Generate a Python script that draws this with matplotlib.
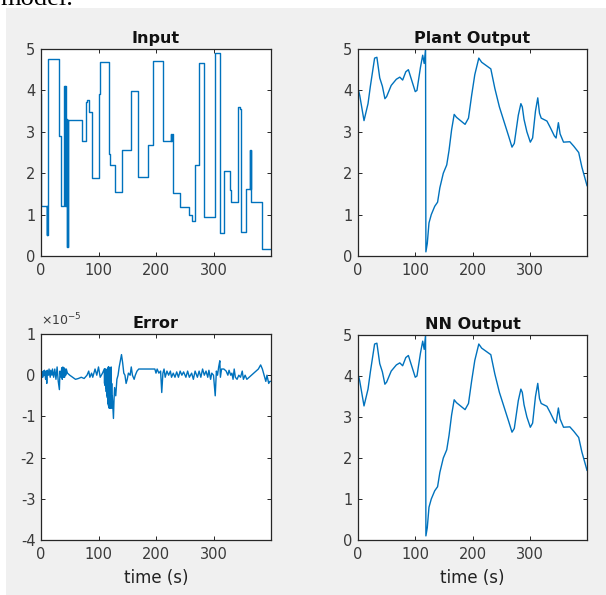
import matplotlib
matplotlib.use("Agg")
import matplotlib.pyplot as plt
from matplotlib.patches import Rectangle
from matplotlib.ticker import FuncFormatter

plt.rcParams['font.family'] = ['DejaVu Sans']
plt.rcParams['axes.unicode_minus'] = False

# ---------------- data ----------------
input_t = [0, 0.5, 10, 10.5, 11, 11.5, 32, 35, 40, 41, 42, 43, 44, 45, 46, 46.5, 47,
           72, 78, 80.5, 83, 89, 100, 103, 118, 120.5, 129, 140, 156, 168, 186, 194,
           212, 226, 226.5, 227, 229, 241, 258, 262, 268, 275, 284, 302, 312, 319,
           329, 331, 342, 346, 348, 356, 363, 364, 365, 366, 384, 400]
input_v = [3.92, 1.2, 0.5, 1.2, 0.5, 4.75, 2.9, 1.2, 4.1, 1.2, 4.1, 1.2, 3.3, 0.22, 3.28, 0.22, 3.28,
           2.78, 3.72, 3.78, 3.47, 1.88, 3.92, 4.68, 2.46, 2.2, 1.54, 2.56, 3.98, 1.92, 2.67, 4.7,
           2.77, 2.95, 2.77, 2.95, 1.52, 1.18, 0.99, 0.85, 2.2, 4.65, 0.95, 4.9, 0.56, 2.06,
           1.6, 1.31, 3.59, 3.55, 0.59, 1.61, 2.56, 1.61, 2.56, 1.31, 0.16, 0.16]

plant_t = [0, 3, 10.5, 17.5, 21.6, 29, 33, 38, 42.6, 47, 50, 58, 67, 73, 78, 83.5, 88,
           100, 103, 109, 113, 115.6, 118, 118.6, 121, 124, 128, 134, 139, 143, 149, 155,
           159, 163.5, 168, 172, 187, 193, 198.5, 204, 211, 216, 232, 239, 247, 255, 263,
           269, 273, 280, 284.5, 287, 290, 295, 301, 305, 310, 314, 317, 320, 330, 336,
           343, 346, 350, 353, 359, 370, 377, 385.5, 391, 397, 400]
plant_v = [4.05, 3.88, 3.27, 3.68, 4.1, 4.78, 4.8, 4.3, 4.1, 3.8, 3.85, 4.12, 4.27, 4.32, 4.25, 4.45, 4.5,
           3.97, 4.0, 4.55, 4.85, 4.65, 5.0, 0.1, 0.3, 0.8, 1.0, 1.2, 1.3, 1.65, 2.0, 2.2,
           2.55, 3.05, 3.42, 3.35, 3.18, 3.33, 3.88, 4.38, 4.78, 4.68, 4.52, 4.05, 3.6, 3.25, 2.9,
           2.63, 2.72, 3.4, 3.68, 3.6, 3.3, 3.0, 2.75, 2.85, 3.5, 3.82, 3.45, 3.33, 3.26, 3.1,
           2.9, 2.85, 3.22, 2.95, 2.75, 2.76, 2.65, 2.5, 2.15, 1.85, 1.7]

nn_t = plant_t
nn_v = plant_v

error_t = [0, 2, 3, 4, 5, 6, 8, 9, 10, 11, 13, 14, 16, 17, 19, 20, 22, 24, 26, 28, 30, 32, 33,
           35, 36, 37, 38, 39, 40, 41, 42, 43, 44, 46, 50, 55, 60, 65, 70, 75, 80, 83, 85, 88,
           90, 94, 97, 100, 103, 107, 110, 110.5, 111, 111.5, 112, 112.5, 113, 113.5, 114, 114.5,
           115, 115.5, 116, 116.5, 117, 117.5, 118, 118.5, 119, 119.5, 120, 120.5, 121, 121.5,
           122, 122.5, 123, 123.5, 124, 125, 126, 127, 128, 130, 132, 134, 136, 138, 140, 142,
           144, 146, 148, 150, 152, 155, 157, 159, 162, 164, 167, 170, 180, 190, 198, 200, 202,
           205, 208, 210, 212, 214, 216, 219, 222, 225, 227, 230, 233, 236, 239, 242, 245, 248,
           252, 255, 258, 262, 265, 268, 272, 275, 278, 281, 284, 287, 290, 292, 295, 297, 300,
           303, 305, 307, 309, 311, 312, 314, 318, 322, 325, 327, 330, 332, 334, 336, 338, 341,
           344, 347, 350, 352, 355, 358, 362, 366, 370, 374, 378, 382, 385, 388, 391, 393, 396,
           398, 400]
error_v = [0.12, 0.05, -0.05, 0.1, 0.0, 0.12, -0.1, 0.1, -0.2, 0.12, 0.0, 0.15, -0.05, 0.12, 0.0, 0.15,
           -0.05, 0.15, -0.1, 0.2, -0.15, -0.35, 0.1, -0.05, 0.18, -0.1, 0.2, -0.05, 0.18, -0.05,
           0.15, 0.0, 0.15, 0.05, 0.0, -0.05, -0.1, -0.08, -0.05, -0.08, 0.0, 0.1, -0.05, 0.05,
           -0.05, 0.15, 0.0, 0.2, -0.05, 0.05, 0.15, -0.2, 0.15, -0.25, 0.15, -0.3, 0.1, -0.4,
           0.1, -0.5, 0.15, -0.55, 0.1, -0.7, 0.2, -0.75, 0.2, -0.8, 0.1, -0.8, -0.2, -0.8, 0.0,
           -0.8, 0.2, -0.7, -0.2, -0.8, -0.5, -0.8, -1.05, -0.6, -0.3, -0.5, -0.1, 0.0, 0.2, 0.35,
           0.5, 0.3, 0.05, 0.0, -0.2, -0.1, 0.05, 0.0, 0.2, 0.0, -0.1, 0.0, 0.1, 0.15, 0.15, 0.15,
           0.15, 0.05, 0.15, 0.05, 0.1, -0.42, 0.05, 0.15, -0.05, 0.1, 0.0, 0.1, -0.05, 0.05, -0.05,
           0.08, -0.05, 0.1, 0.0, 0.08, -0.05, 0.1, -0.05, 0.05, -0.1, 0.1, -0.05, 0.1, -0.05, 0.15,
           0.0, 0.1, -0.05, 0.12, -0.1, 0.05, 0.0, -0.5, 0.1, 0.0, 0.2, 0.35, -0.05, 0.15, 0.15,
           0.1, 0.0, 0.12, 0.0, 0.05, -0.1, 0.15, -0.05, -0.1, 0.0, -0.05, 0.1, -0.1, 0.0, -0.1,
           -0.05, 0.0, 0.05, 0.1, 0.15, 0.25, 0.15, 0.0, -0.15, 0.0, -0.2, -0.15, -0.15]
error_scale = 1e-5

titles = ["Input", "Plant Output", "Error", "NN Output"]
x_ticks = [0, 100, 200, 300]
xlabel = "time (s)"

# ---------------- figure ----------------
W, H = 606, 595
fig = plt.figure(figsize=(W / 100, H / 100), dpi=100, facecolor='white')
fig.patches.append(Rectangle((6 / W, 0), 1 - 6 / W, 1 - 8 / H, transform=fig.transFigure,
                             facecolor='#f0f0f0', edgecolor='none', zorder=-10))
fig.text(0.0, 1 - 5 / H, "model.", family='Liberation Serif', fontsize=19,
         ha='left', va='baseline', color='black')

line_color = '#0072BD'
axis_color = '#262626'
label_color = '#3a3a3a'


def px_axes(l, t, r, b):
    return fig.add_axes([l / W, 1 - b / H, (r - l) / W, (b - t) / H])


def style(ax, title):
    ax.set_facecolor('white')
    for s in ax.spines.values():
        s.set_color(axis_color)
        s.set_linewidth(0.9)
    ax.tick_params(direction='in', length=3, width=0.7, colors=axis_color,
                   labelsize=10.5, labelcolor=label_color, top=True, right=True, pad=4)
    ax.tick_params(axis='x', pad=5)
    ax.set_xlim(0, 400)
    ax.set_xticks(x_ticks)
    ax.set_title(title, fontsize=11.5, fontweight='bold', color='#111111', pad=4)


ax1 = px_axes(41, 49, 271, 256)
ax1.plot(input_t, input_v, color=line_color, lw=1.0, drawstyle='steps-post')
ax1.set_ylim(0, 5)
ax1.set_yticks(range(0, 6))
style(ax1, titles[0])

ax2 = px_axes(358, 49, 587, 256)
ax2.plot(plant_t, plant_v, color=line_color, lw=1.0)
ax2.set_ylim(0, 5)
ax2.set_yticks(range(0, 6))
style(ax2, titles[1])

ax3 = px_axes(41, 334, 271, 540)
ax3.plot(error_t, [v * error_scale for v in error_v], color=line_color, lw=1.0)
ax3.set_ylim(-4e-5, 1e-5)
ax3.set_yticks([-4e-5, -3e-5, -2e-5, -1e-5, 0, 1e-5])
ax3.yaxis.set_major_formatter(FuncFormatter(lambda v, p: f"{round(v / error_scale):d}"))
style(ax3, titles[2])
ax3.text(0.0, 1.03, r"$\times\mathregular{10}^{\mathregular{-5}}$", transform=ax3.transAxes,
         fontsize=9, color=label_color, ha='left', va='bottom')
ax3.set_xlabel(xlabel, fontsize=12, color='#222222', labelpad=5)

ax4 = px_axes(358, 335, 587, 540)
ax4.plot(nn_t, nn_v, color=line_color, lw=1.0)
ax4.set_ylim(0, 5)
ax4.set_yticks(range(0, 6))
style(ax4, titles[3])
ax4.set_xlabel(xlabel, fontsize=12, color='#222222', labelpad=5)

fig.savefig("out.png", dpi=100, facecolor='white')
